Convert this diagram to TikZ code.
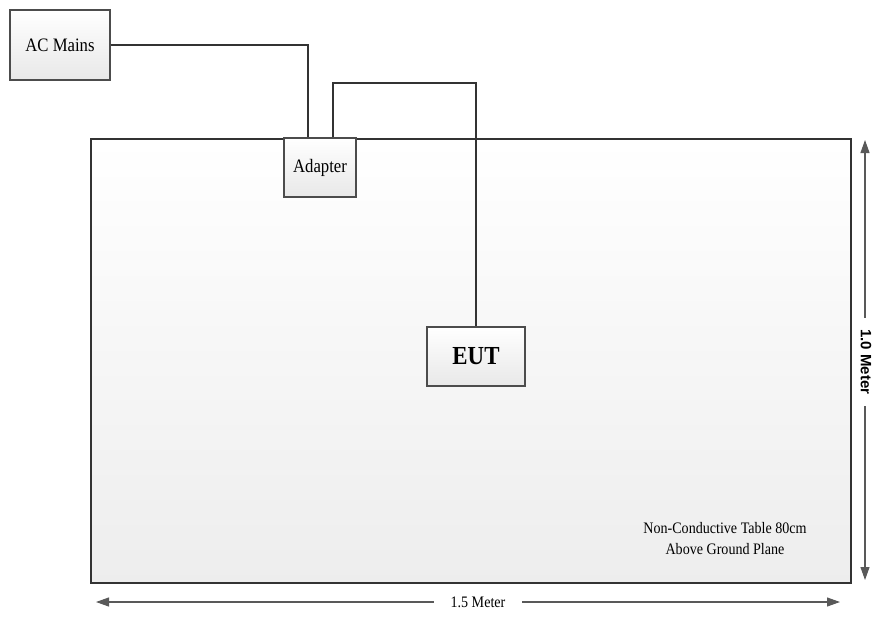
\documentclass[tikz,border=0pt]{standalone}
\usepackage{fontspec}
\setmainfont{Liberation Serif}[FakeStretch=0.88]
\newfontfamily\dimsans{Liberation Sans}
\usetikzlibrary{shadows,arrows.meta}
\begin{document}
\begin{tikzpicture}[x=1pt,y=-1pt,
 box/.style={draw=black!70, line width=1.3pt, top color=white, bottom color=black!9,
   drop shadow={shadow xshift=1.2pt,shadow yshift=-1.2pt,opacity=0.3,fill=black!50}},
 tablebox/.style={draw=black!80, line width=1.6pt, top color=white, bottom color=black!7, anchor=north west},
 wire/.style={draw=black!80, line width=1.5pt},
 dim/.style={draw=black!65, line width=1.1pt, arrows={Triangle[length=13pt,width=9pt]-Triangle[length=13pt,width=9pt]}},
 lbl/.style={font=\fontsize{19}{21}\selectfont},
 small/.style={font=\fontsize{16}{21}\selectfont},
 gap/.style={fill=white, inner xsep=14pt, inner ysep=1pt}]
\useasboundingbox (0,0) rectangle (873,616);
\node[tablebox, minimum width=760pt, minimum height=444pt] (table) at (90,138) {};
\node[box, lbl, minimum width=100pt, minimum height=70pt] (ac) at (60,45) {AC Mains};
\node[box, lbl, minimum width=72pt, minimum height=59pt] (adapter) at (320,167.5) {Adapter};
\node[box, minimum width=98pt, minimum height=59pt, font=\fontsize{26}{28}\selectfont\bfseries] (eut) at (476,356.5) {EUT};
\draw[wire] (ac.east) -| ([xshift=-12pt]adapter.north);
\draw[wire] ([xshift=13pt]adapter.north) -- ++(0,-54.5) -| (eut.north);
\node[small, align=center] (note) at (725,539) {Non-Conductive Table 80cm\\Above Ground Plane};
\coordinate (vt) at (865,140);
\coordinate (vb) at (865,580);
\coordinate (hl) at (96,602);
\coordinate (hr) at (840,602);
\draw[dim] (vt) -- (vb);
\draw[dim] (hl) -- (hr);
\node[gap, inner xsep=11pt, rotate=-90, font=\dimsans\bfseries\fontsize{15}{16}\selectfont] (vlabel) at (866,362) {1.0 Meter};
\node[small, gap, inner xsep=17pt] (hlabel) at (478,602) {1.5 Meter};
\end{tikzpicture}
\end{document}
